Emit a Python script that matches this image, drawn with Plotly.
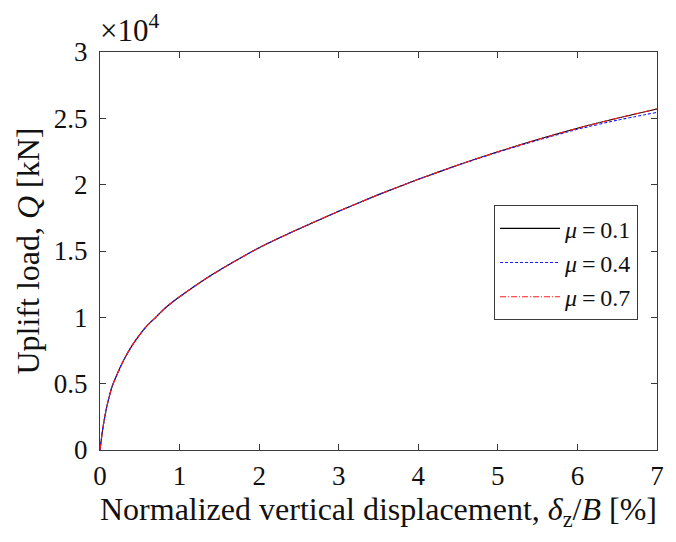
import plotly.graph_objects as go

# Normalized vertical displacement delta_z/B [%]
disp = [0, 0.03, 0.06, 0.1, 0.15, 0.2, 0.3, 0.4, 0.5, 0.6, 0.7, 0.8, 0.9,
        1.0, 1.3, 1.6, 2.0, 2.4, 3.0, 3.5, 4.0, 4.5, 5.0, 5.5, 6.0, 6.5, 7.0]

# Uplift load Q [kN] for each friction coefficient
q_mu01 = [0, 1400, 2500, 3650, 4750, 5500, 6800, 7850, 8700, 9430, 10000,
          10600, 11100, 11550, 12800, 13900, 15250, 16400, 18000, 19250,
          20400, 21480, 22480, 23400, 24250, 25000, 25700]
q_mu04 = [0, 1400, 2500, 3650, 4750, 5500, 6800, 7850, 8700, 9430, 10000,
          10600, 11100, 11550, 12800, 13900, 15250, 16400, 18000, 19250,
          20400, 21470, 22450, 23350, 24170, 24860, 25450]
q_mu07 = [0, 1400, 2500, 3650, 4750, 5500, 6800, 7850, 8700, 9430, 10000,
          10600, 11100, 11550, 12800, 13900, 15250, 16400, 18000, 19250,
          20400, 21480, 22480, 23400, 24250, 25010, 25720]

series_names = ["<i>μ</i>\u2009=\u20090.1", "<i>μ</i>\u2009=\u20090.4",
                "<i>μ</i>\u2009=\u20090.7"]

x_ticks = [0, 1, 2, 3, 4, 5, 6, 7]
y_tickvals = [0, 5000, 10000, 15000, 20000, 25000, 30000]
y_ticktext = ["0", "0.5", "1", "1.5", "2", "2.5", "3"]

FONT = "Liberation Serif, Times New Roman, serif"
AXIS_COLOR = "#3a3a3a"
TEXT_COLOR = "#111111"

fig = go.Figure()
fig.add_trace(go.Scatter(x=disp, y=q_mu01, mode="lines", name=series_names[0],
                         line=dict(color="black", width=1.1, dash="solid",
                                   shape="spline", smoothing=0.6)))
fig.add_trace(go.Scatter(x=disp, y=q_mu04, mode="lines", name=series_names[1],
                         line=dict(color="#1a1aff", width=1.1, dash="3px,2px",
                                   shape="spline", smoothing=0.6)))
fig.add_trace(go.Scatter(x=disp, y=q_mu07, mode="lines", name=series_names[2],
                         line=dict(color="#ff1a1a", width=1.1, dash="6px,2px,1px,2px",
                                   shape="spline", smoothing=0.6)))

axis_common = dict(
    showgrid=False, zeroline=False, showline=True, linecolor=AXIS_COLOR,
    linewidth=1, mirror="ticks", ticks="inside", ticklen=6, tickwidth=1,
    tickcolor=AXIS_COLOR, tickfont=dict(family=FONT, size=27, color=TEXT_COLOR),
)

fig.update_xaxes(range=[0, 7], tickvals=x_ticks, ticklabelstandoff=2,
                 title=dict(text="Normalized vertical displacement, <i>δ</i><sub>z</sub>/<i>B</i> [%]",
                            font=dict(family=FONT, size=32, color=TEXT_COLOR), standoff=6),
                 **axis_common)
fig.update_yaxes(range=[0, 30000], tickvals=y_tickvals, ticktext=y_ticktext,
                 ticklabelstandoff=6,
                 title=dict(text="Uplift load, <i>Q</i> [kN]",
                            font=dict(family=FONT, size=32, color=TEXT_COLOR), standoff=4),
                 **axis_common)

fig.add_annotation(xref="paper", yref="paper", x=0, y=1.0, xanchor="left",
                   yanchor="bottom", yshift=2, xshift=-2, showarrow=False,
                   text="×10<sup>4</sup>", font=dict(family=FONT, size=31, color=TEXT_COLOR))

fig.update_layout(
    width=676, height=542,
    margin=dict(l=100, r=19, t=52, b=92),
    paper_bgcolor="white", plot_bgcolor="white",
    font=dict(family=FONT, color=TEXT_COLOR),
    legend=dict(x=0.966, y=0.615, xanchor="right", yanchor="top",
                bgcolor="white", bordercolor=AXIS_COLOR, borderwidth=1,
                font=dict(family=FONT, size=24, color=TEXT_COLOR),
                tracegroupgap=0, itemwidth=60),
    showlegend=True,
)

fig.write_html("out.html")
